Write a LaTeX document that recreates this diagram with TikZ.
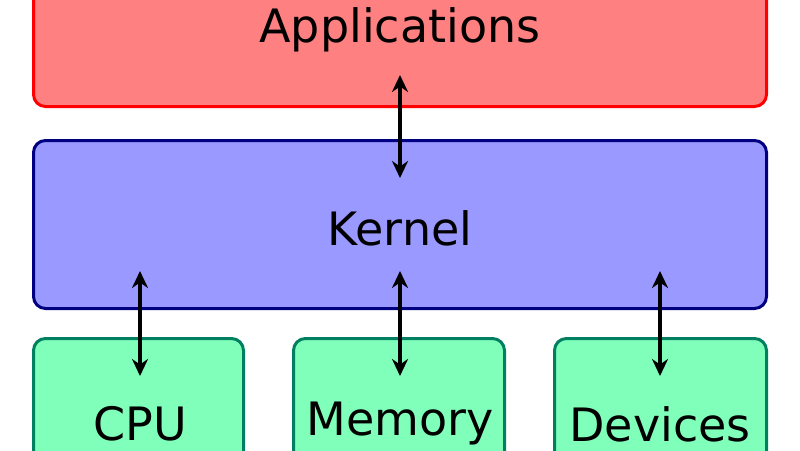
\documentclass[tikz,border=0pt]{standalone}
\usepackage{fontspec}
\setmainfont{DejaVu Sans}
\usetikzlibrary{arrows.meta}
\definecolor{appfill}{HTML}{FF8080}
\definecolor{appline}{HTML}{FF0000}
\definecolor{kerfill}{HTML}{9999FF}
\definecolor{kerline}{HTML}{000080}
\definecolor{hwfill}{HTML}{80FFBB}
\definecolor{hwline}{HTML}{008060}
\begin{document}
\begin{tikzpicture}[x=1pt,y=-1pt,
  box/.style={draw,line width=3pt,rounded corners=12pt,minimum height=#1, inner sep=0pt},
  lbl/.style={font=\fontsize{46}{50}\selectfont},
  arr/.style={line width=4pt,{Stealth[length=17pt,width=16pt]}-{Stealth[length=17pt,width=16pt]}}]
\useasboundingbox (0,0) rectangle (800,450);
\begin{scope}
\clip (0,0) rectangle (800,450);
\node[box=150pt,fill=appfill,draw=appline,minimum width=733pt,anchor=south west] (app) at (32,108) {};
\node[box=168pt,fill=kerfill,draw=kerline,minimum width=733pt,anchor=north west] (ker) at (32,139) {};
\node[box=150pt,fill=hwfill,draw=hwline,minimum width=210pt,anchor=north west] (cpu) at (32,337) {};
\node[box=150pt,fill=hwfill,draw=hwline,minimum width=211pt,anchor=north west] (mem) at (292,337) {};
\node[box=150pt,fill=hwfill,draw=hwline,minimum width=212pt,anchor=north west] (dev) at (553,337) {};
\node[lbl] (tapp) at (400,30) {Applications};
\node[lbl] (tker) at (400,228) {Kernel};
\node[lbl] (tcpu) at (140,424) {CPU};
\node[lbl] (tmem) at (400,424) {Memory};
\node[lbl] (tdev) at (660,424) {Devices};
\coordinate (a1) at (400,75); \coordinate (a2) at (400,178);
\coordinate (c1) at (140,271); \coordinate (c2) at (140,376);
\coordinate (m1) at (400,271); \coordinate (m2) at (400,376);
\coordinate (d1) at (660,271); \coordinate (d2) at (660,376);
\draw[arr] (a1) -- (a2);
\draw[arr] (c1) -- (c2);
\draw[arr] (m1) -- (m2);
\draw[arr] (d1) -- (d2);
\end{scope}
\end{tikzpicture}
\end{document}
